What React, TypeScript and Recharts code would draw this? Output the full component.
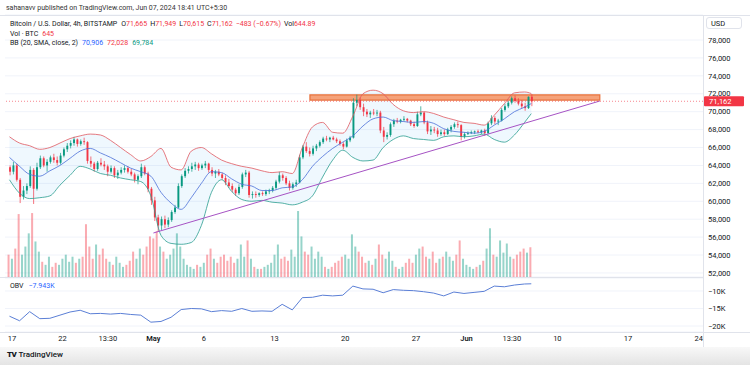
import React from 'react';
import {
  Area,
  Bar,
  CartesianGrid,
  ComposedChart,
  Line,
  ReferenceArea,
  ReferenceLine,
  XAxis,
  YAxis,
} from 'recharts';

// 8h bars, time in days counted from Mar 31 (so Apr 17 = 17, May 1 = 31, Jun 1 = 62)
const START_DAY = 16.75;
const BAR_DAYS = 1 / 3;
const DAY_MIN = 16.307;
const DAY_MAX = 85.418;

const opens = [
  63800, 63300, 64000, 62400, 60500, 61200, 61700, 63500, 61400, 63800,
  64800, 64000, 64400, 64900, 64600, 64300, 65100, 65800, 66200, 66500,
  66900, 66400, 66700, 66600, 64500, 64200, 63600, 64300, 64100, 63900,
  63300, 63700, 62900, 63200, 63500, 63700, 63300, 63000, 62400, 62800,
  63800, 63100, 61400, 60100, 58200, 57300, 58000, 57400, 57900, 58800,
  59300, 61700, 62800, 63400, 63600, 63900, 64100, 63700, 64000, 64200,
  63500, 63100, 63300, 63000, 62600, 62100, 61700, 61300, 60900, 61600,
  63000, 63200, 60700, 60800, 60700, 60900, 60800, 61100, 61200, 61500,
  62200, 62900, 62600, 62000, 61500, 61900, 62100, 64900, 66100, 65600,
  65300, 65900, 66200, 66600, 67000, 66900, 67100, 66900, 66700, 66400,
  66100, 66800, 67100, 71000, 71300, 70500, 70000, 69700, 69900, 69800,
  69900, 67900, 67200, 67400, 68600, 69000, 68900, 69100, 69200, 69000,
  68600, 68400, 69700, 69900, 68800, 67800, 68000, 67900, 67500, 67700,
  67500, 68000, 68300, 68600, 68500, 67200, 67500, 67600, 67700, 67800,
  67700, 67900, 67600, 68700, 69300, 68900, 69000, 70200, 70600, 71000,
  71500, 71200, 70900, 70600, 70400, 71665,
];
const highs = [
  64000, 64400, 64200, 62600, 61700, 62000, 63900, 63700, 64300, 65100,
  65000, 64700, 65100, 65300, 65000, 65400, 66000, 66500, 66800, 67200,
  67000, 66900, 67100, 66700, 65000, 64400, 64500, 64800, 64500, 64100,
  64000, 63900, 63500, 63800, 64000, 63900, 63600, 63200, 63000, 64200,
  64000, 63300, 61600, 60500, 58500, 58300, 58400, 58200, 59000, 59600,
  62000, 63000, 63700, 63900, 64300, 64400, 64300, 64200, 64500, 64300,
  63800, 63500, 63600, 63200, 62900, 62500, 62000, 61500, 61900, 63200,
  63500, 63400, 61100, 61100, 61000, 61100, 61300, 61400, 61700, 62400,
  63300, 63100, 62800, 62300, 62100, 62400, 65200, 66300, 66600, 66000,
  66200, 66400, 66800, 67200, 67300, 67200, 67300, 67100, 66900, 66600,
  67000, 67300, 71500, 71900, 71600, 70900, 70300, 70100, 70300, 70200,
  70100, 68300, 67700, 68800, 69200, 69300, 69200, 69500, 69300, 69100,
  68900, 70000, 70600, 70000, 69000, 68400, 68300, 68200, 68000, 68000,
  68200, 68500, 68800, 68900, 68600, 67700, 67800, 67900, 67900, 68000,
  68000, 68100, 68900, 69600, 69500, 69200, 70400, 70900, 71200, 71700,
  71800, 71500, 71300, 71000, 71700, 71949,
];
const lows = [
  62900, 63000, 62200, 59800, 60200, 60800, 61500, 59700, 61200, 63600,
  63800, 63300, 64200, 64300, 64000, 64100, 64900, 65500, 65900, 66200,
  66100, 66200, 66300, 64200, 63800, 63300, 63400, 63900, 63500, 62800,
  63100, 62600, 62500, 63000, 63200, 63100, 62800, 62100, 61900, 62600,
  62900, 61000, 59600, 57800, 56600, 56800, 57000, 57100, 57700, 58600,
  59200, 61500, 62600, 63100, 63300, 63500, 63400, 63500, 63700, 63200,
  62800, 62600, 62800, 62400, 61800, 61500, 61000, 60600, 60700, 61400,
  62700, 60400, 60300, 60400, 60500, 60600, 60600, 60800, 61000, 61300,
  62000, 62300, 61800, 61200, 61300, 61600, 62000, 64700, 65400, 65000,
  65100, 65600, 66000, 66400, 66700, 66600, 66800, 66500, 66200, 65800,
  66000, 66600, 67000, 70600, 70200, 69500, 69400, 69300, 69600, 69500,
  67600, 66600, 66900, 67200, 68300, 68700, 68700, 68900, 68800, 68400,
  68200, 68300, 69500, 68600, 67500, 67400, 67600, 67200, 67300, 67300,
  67400, 67700, 68100, 68200, 66800, 67000, 67400, 67500, 67500, 67600,
  67500, 67300, 67500, 68500, 68600, 68500, 68900, 70000, 70400, 70800,
  71000, 70700, 70400, 70100, 70300, 70615,
];
const closes = [
  63300, 64000, 62400, 60500, 61200, 61700, 63500, 61400, 63800, 64800,
  64000, 64400, 64900, 64600, 64300, 65100, 65800, 66200, 66500, 66900,
  66400, 66700, 66600, 64500, 64200, 63600, 64300, 64100, 63900, 63300,
  63700, 62900, 63200, 63500, 63700, 63300, 63000, 62400, 62800, 63800,
  63100, 61400, 60100, 58200, 57300, 58000, 57400, 57900, 58800, 59300,
  61700, 62800, 63400, 63600, 63900, 64100, 63700, 64000, 64200, 63500,
  63100, 63300, 63000, 62600, 62100, 61700, 61300, 60900, 61600, 63000,
  63200, 60700, 60800, 60700, 60900, 60800, 61100, 61200, 61500, 62200,
  62900, 62600, 62000, 61500, 61900, 62100, 64900, 66100, 65600, 65300,
  65900, 66200, 66600, 67000, 66900, 67100, 66900, 66700, 66400, 66100,
  66800, 67100, 71000, 71300, 70500, 70000, 69700, 69900, 69800, 69900,
  67900, 67200, 67400, 68600, 69000, 68900, 69100, 69200, 69000, 68600,
  68400, 69700, 69900, 68800, 67800, 68000, 67900, 67500, 67700, 67500,
  68000, 68300, 68600, 68500, 67200, 67500, 67600, 67700, 67800, 67700,
  67900, 67600, 68700, 69300, 68900, 69000, 70200, 70600, 71000, 71500,
  71200, 70900, 70600, 70400, 71665, 71162,
];
// BTC per bar
const volumes = [
  484, 396, 616, 1364, 484, 660, 946, 1386, 770, 550,
  330, 264, 440, 220, 308, 264, 396, 484, 330, 440,
  308, 396, 440, 1144, 660, 396, 704, 484, 616, 396,
  330, 264, 440, 308, 220, 264, 352, 550, 396, 616,
  484, 660, 880, 836, 990, 660, 550, 396, 484, 616,
  946, 660, 396, 264, 220, 176, 264, 220, 308, 484,
  616, 396, 308, 440, 484, 352, 440, 308, 396, 704,
  440, 792, 396, 220, 176, 176, 220, 264, 308, 484,
  704, 396, 440, 352, 594, 440, 1430, 880, 550, 484,
  660, 396, 550, 440, 220, 176, 220, 308, 352, 440,
  484, 396, 924, 660, 550, 440, 308, 352, 264, 396,
  704, 484, 396, 550, 352, 220, 176, 220, 308, 396,
  308, 484, 616, 660, 440, 396, 550, 308, 396, 440,
  550, 440, 352, 484, 792, 396, 264, 220, 176, 220,
  264, 352, 616, 1056, 484, 440, 792, 528, 726, 440,
  396, 484, 550, 616, 528, 645,
];

// Bollinger Bands and OBV, read once per day (every 3rd bar) plus the last bar
const sampleBars = [...Array.from({ length: 52 }, (_, k) => k * 3), 155];
const bbUpper = [
  67200, 66500, 66200, 65800, 66000, 66500, 67000, 67300, 67500, 67400,
  66800, 66000, 65200, 64500, 65000, 65900, 63800, 63500, 65600, 66000,
  65300, 64600, 64200, 63900, 63700, 63400, 63200, 63300, 63100, 66000,
  68300, 68800, 67700, 67600, 69500, 72000, 72400, 72000, 70800, 70100,
  69900, 70000, 69800, 69400, 69100, 68800, 68700, 68500, 69600, 70900,
  72100, 72200, 72028,
];
const bbMiddle = [
  64900, 63900, 63000, 62800, 63400, 64000, 64800, 65600, 65900, 65400,
  64900, 64300, 63700, 63300, 62800, 61000, 59800, 59100, 60400, 62000,
  63300, 63200, 62500, 61900, 61700, 61200, 61200, 61500, 61600, 62400,
  63900, 65000, 65900, 66600, 67300, 68400, 69200, 69400, 69000, 68900,
  68800, 68900, 68700, 68100, 67800, 67700, 67600, 67800, 68500, 69200,
  70000, 70500, 70906,
];
const bbLower = [
  62400, 60900, 60300, 60400, 60600, 61800, 62900, 63900, 63600, 63100,
  62900, 62600, 62400, 62200, 60600, 56200, 55300, 55200, 55400, 57300,
  61000, 62400, 61100, 60200, 60000, 60100, 59900, 59800, 59600, 59900,
  60600, 62700, 64600, 65700, 64900, 64500, 64600, 66000, 66900, 67300,
  67000, 66900, 66800, 67200, 67300, 67200, 67300, 67500, 66900, 66600,
  67400, 68800, 69784,
];
// thousands
const obvK = [
  -17.2, -18.5, -15.9, -17.9, -17.8, -16.9, -16.0, -15.5, -16.5, -16.4,
  -16.6, -16.4, -16.7, -16.9, -18.9, -18.7, -17.5, -15.3, -15.0, -15.1,
  -15.9, -15.6, -15.8, -15.0, -15.8, -15.7, -15.8, -13.8, -15.4, -11.9,
  -11.8, -11.2, -11.4, -11.2, -8.6, -9.4, -9.5, -10.5, -9.6, -9.8,
  -9.9, -10.2, -10.6, -11.4, -10.3, -10.7, -10.4, -10.1, -8.6, -8.8,
  -8.3, -8.0, -7.943,
];

const tickDays = [17, 22, 26.5, 31, 36, 43, 50, 57, 62, 66.5, 71, 78, 85];
const tickLabels = ['17', '22', '13:30', 'May', '6', '13', '20', '27', 'Jun', '13:30', '10', '17', '24'];
const priceTicks = [52000, 54000, 56000, 58000, 60000, 62000, 64000, 66000, 68000, 70000, 72000, 74000, 76000, 78000];
const obvTicks = [-20, -15, -10];

// drawings on the chart
const lastPrice = 71162;
const resistance = { x1: 46.5, x2: 75.2, y1: 71300, y2: 71870 };
const trendline = [{ x: 31.0, y: 56460 }, { x: 75.2, y: 71190 }];

const UP = '#089981';
const DOWN = '#f23645';
const TEXT = '#131722';
const GRID = '#f0f3fa';
const BORDER = '#e0e3eb';

const candles: any[] = closes.map((c, i) => ({
  t: START_DAY + i * BAR_DAYS,
  open: opens[i],
  high: highs[i],
  low: lows[i],
  close: c,
  range: [lows[i], highs[i]],
  vol: volumes[i],
  band: [null, null],
}));
sampleBars.forEach((bi, k) => {
  Object.assign(candles[bi], {
    upper: bbUpper[k],
    middle: bbMiddle[k],
    lower: bbLower[k],
    band: [bbLower[k], bbUpper[k]],
  });
});
const obvRows = sampleBars.map((bi, k) => ({ t: candles[bi].t, obv: obvK[k] }));

const Candle = (props: any) => {
  const { x, y, width, height, payload } = props;
  if (x == null || y == null || !payload) return null;
  const top = height < 0 ? y + height : y;
  const h = Math.abs(height);
  const { open, close, high, low } = payload;
  const k = h / (high - low || 1);
  const cx = x + width / 2;
  const bodyTop = top + (high - Math.max(open, close)) * k;
  const bodyBot = top + (high - Math.min(open, close)) * k;
  const color = close >= open ? UP : DOWN;
  return (
    <g>
      <line x1={cx} x2={cx} y1={top} y2={top + h} stroke={color} strokeWidth={0.7} />
      <rect x={cx - 0.95} y={bodyTop} width={1.9} height={Math.max(bodyBot - bodyTop, 0.8)} fill={color} />
    </g>
  );
};

const VolBar = (props: any) => {
  const { x, y, width, height, payload } = props;
  if (x == null || y == null || !payload) return null;
  const color = payload.close >= payload.open ? UP : DOWN;
  return <rect x={x + width / 2 - 1} y={y} width={2} height={Math.max(height, 0)} fill={color} fillOpacity={0.42} />;
};

const PriceTag = (props: any) => {
  const vb = props.viewBox;
  if (!vb) return null;
  const x = vb.x + vb.width + 1;
  return (
    <g>
      <rect x={x} y={vb.y - 5} width={40} height={10} rx={1} fill={DOWN} />
      <text x={x + 5} y={vb.y + 2.6} fontSize={7.5} fill="#fff">
        {lastPrice.toLocaleString('en-US')}
      </text>
    </g>
  );
};

const TimeTick = (props: any) => {
  const { x, y, payload } = props;
  const label = tickLabels[tickDays.indexOf(payload.value)] ?? '';
  const bold = label === 'May' || label === 'Jun';
  return (
    <text x={x} y={y + 9} textAnchor="middle" fontSize={7.5} fill={TEXT} fontWeight={bold ? 600 : 400}>
      {label}
    </text>
  );
};

const red = { color: DOWN };

export default function App() {
  return (
    <div
      style={{
        position: 'fixed',
        left: 0,
        top: 0,
        width: 750,
        height: 365,
        background: '#fff',
        overflow: 'hidden',
        fontFamily: "Roboto, 'Liberation Sans', sans-serif",
        color: TEXT,
      }}
    >
      <div style={{ position: 'absolute', left: 6, top: 3, fontSize: 7, lineHeight: '10px', color: '#333', whiteSpace: 'nowrap' }}>
        sahanavv published on TradingView.com, Jun 07, 2024 18:41 UTC+5:30
      </div>
      <div style={{ position: 'absolute', left: 0, top: 15, width: 750, height: 1, background: BORDER }} />

      <div style={{ position: 'absolute', left: 0, top: 14 }}>
        <ComposedChart width={750} height={263} data={candles} margin={{ top: 0, right: 0, bottom: 0, left: 5 }}>
          <CartesianGrid stroke={GRID} vertical={false} yAxisId="price" />
          <XAxis type="number" dataKey="t" domain={[DAY_MIN, DAY_MAX]} ticks={tickDays} allowDataOverflow hide />
          <YAxis
            yAxisId="price"
            orientation="right"
            width={47}
            domain={[51549, 80902]}
            ticks={priceTicks}
            interval={0}
            allowDataOverflow
            axisLine={false}
            tickLine={false}
            tickSize={0}
            tickMargin={5}
            tick={{ fontSize: 7.5, fill: TEXT }}
            tickFormatter={(v: number) => v.toLocaleString('en-US')}
          />
          <YAxis yAxisId="vol" domain={[0, 5700]} hide allowDataOverflow />
          <Bar yAxisId="vol" dataKey="vol" barSize={3} shape={<VolBar />} isAnimationActive={false} />
          <Area
            yAxisId="price"
            type="monotone"
            dataKey="band"
            stroke="none"
            fill="#2196f3"
            fillOpacity={0.07}
            connectNulls
            isAnimationActive={false}
          />
          <Line yAxisId="price" type="monotone" dataKey="upper" stroke="#e0585f" strokeWidth={0.8} dot={false} connectNulls isAnimationActive={false} />
          <Line yAxisId="price" type="monotone" dataKey="middle" stroke="#4a6fd8" strokeWidth={0.8} dot={false} connectNulls isAnimationActive={false} />
          <Line yAxisId="price" type="monotone" dataKey="lower" stroke="#2a9d8f" strokeWidth={0.8} dot={false} connectNulls isAnimationActive={false} />
          <ReferenceLine yAxisId="price" segment={trendline} stroke="#a653c4" strokeWidth={1} />
          <ReferenceArea
            yAxisId="price"
            x1={resistance.x1}
            x2={resistance.x2}
            y1={resistance.y1}
            y2={resistance.y2}
            fill="#f5a27a"
            fillOpacity={1}
            stroke="#e8703a"
            strokeWidth={1.2}
          />
          <Bar yAxisId="price" dataKey="range" barSize={3} shape={<Candle />} isAnimationActive={false} />
          <ReferenceLine
            yAxisId="price"
            y={lastPrice}
            stroke={DOWN}
            strokeOpacity={0.6}
            strokeDasharray="1 2"
            label={<PriceTag />}
          />
        </ComposedChart>
      </div>

      <div style={{ position: 'absolute', left: 0, top: 277, width: 703, height: 1, background: BORDER }} />
      <div style={{ position: 'absolute', left: 0, top: 278 }}>
        <ComposedChart width={750} height={69} data={obvRows} margin={{ top: 0, right: 0, bottom: 0, left: 5 }}>
          <CartesianGrid stroke={GRID} vertical={false} />
          <XAxis
            type="number"
            dataKey="t"
            domain={[DAY_MIN, DAY_MAX]}
            ticks={tickDays}
            interval={0}
            allowDataOverflow
            height={15}
            axisLine={false}
            tickLine={false}
            tickSize={0}
            tickMargin={0}
            tick={<TimeTick />}
          />
          <YAxis
            orientation="right"
            width={47}
            domain={[-21.71, -6.29]}
            ticks={obvTicks}
            interval={0}
            allowDataOverflow
            axisLine={false}
            tickLine={false}
            tickSize={0}
            tickMargin={5}
            tick={{ fontSize: 7.5, fill: TEXT }}
            tickFormatter={(v: number) => `\u2212${Math.abs(v)}K`}
          />
          <Line type="linear" dataKey="obv" stroke="#5b7fd6" strokeWidth={1} dot={false} isAnimationActive={false} />
        </ComposedChart>
      </div>
      <div style={{ position: 'absolute', left: 0, top: 332, width: 750, height: 1, background: BORDER }} />
      <div style={{ position: 'absolute', left: 703, top: 15, width: 1, height: 332, background: BORDER }} />

      {/* legend */}
      <div style={{ position: 'absolute', left: 10, top: 19, fontSize: 7, lineHeight: '10px', whiteSpace: 'nowrap' }}>
        <span>Bitcoin / U.S. Dollar, 4h, BITSTAMP</span>
        <span style={{ marginLeft: 4 }}>O</span><span style={red}>71,665</span>
        <span style={{ marginLeft: 3 }}>H</span><span style={red}>71,949</span>
        <span style={{ marginLeft: 3 }}>L</span><span style={red}>70,615</span>
        <span style={{ marginLeft: 3 }}>C</span><span style={red}>71,162</span>
        <span style={{ ...red, marginLeft: 3 }}>{'\u2212'}483 ({'\u2212'}0.67%)</span>
        <span style={{ marginLeft: 3 }}>Vol</span><span style={red}>644.89</span>
      </div>
      <div style={{ position: 'absolute', left: 10, top: 28.5, fontSize: 7, lineHeight: '10px', whiteSpace: 'nowrap' }}>
        <span>Vol · BTC</span>
        <span style={{ ...red, marginLeft: 4 }}>645</span>
      </div>
      <div style={{ position: 'absolute', left: 10, top: 38, fontSize: 7, lineHeight: '10px', whiteSpace: 'nowrap' }}>
        <span>BB (20, SMA, close, 2)</span>
        <span style={{ color: '#2962ff', marginLeft: 4 }}>70,906</span>
        <span style={{ color: DOWN, marginLeft: 4 }}>72,028</span>
        <span style={{ color: UP, marginLeft: 4 }}>69,784</span>
      </div>
      <div style={{ position: 'absolute', left: 10, top: 281, fontSize: 7, lineHeight: '10px', whiteSpace: 'nowrap' }}>
        <span>OBV</span>
        <span style={{ color: '#2962ff', marginLeft: 5 }}>{'\u2212'}7.943K</span>
      </div>

      <div
        style={{
          position: 'absolute',
          left: 706,
          top: 17,
          width: 36,
          height: 12,
          border: `1px solid ${BORDER}`,
          borderRadius: 3,
          fontSize: 7.5,
          lineHeight: '12px',
          paddingLeft: 4,
          boxSizing: 'border-box',
        }}
      >
        USD
      </div>

      <div
        style={{
          position: 'absolute',
          left: 0,
          top: 347,
          width: 750,
          height: 18,
          background: 'linear-gradient(#f8f8f8, #e4e4e4)',
        }}
      />
      <div style={{ position: 'absolute', left: 7, top: 350, fontSize: 8, lineHeight: '10px', whiteSpace: 'nowrap', color: TEXT }}>
        <span style={{ fontWeight: 900, letterSpacing: -0.5, marginRight: 2 }}>TV</span>
        <span style={{ fontWeight: 500 }}>TradingView</span>
      </div>
    </div>
  );
}
